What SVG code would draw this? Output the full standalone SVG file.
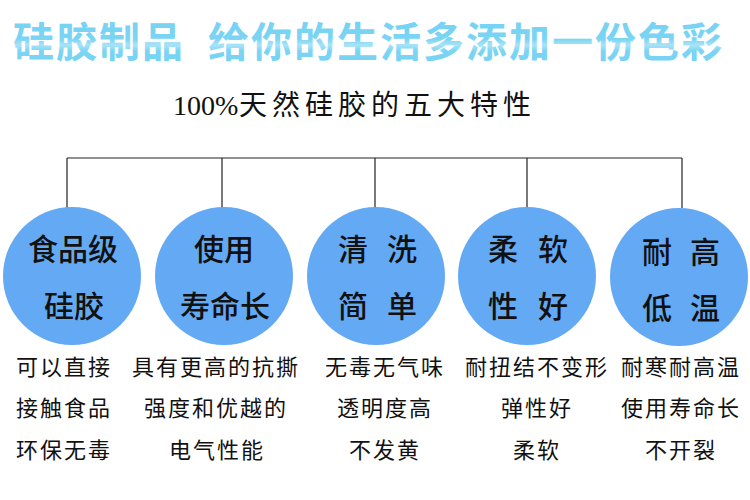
<svg xmlns="http://www.w3.org/2000/svg" width="750" height="500" viewBox="0 0 750 500">
<defs>
<linearGradient id="tg" x1="0" y1="0" x2="0" y2="1">
<stop offset="0" stop-color="#76d1f3"/>
<stop offset="0.5" stop-color="#7ad4f4"/>
<stop offset="0.6" stop-color="#a9e3f7"/>
<stop offset="0.7" stop-color="#7ad4f4"/>
<stop offset="1" stop-color="#76d1f3"/>
</linearGradient>
</defs>
<style>
.title{font-family:"Noto Sans CJK SC",sans-serif;font-size:41px;font-weight:bold;fill:url(#tg);letter-spacing:2px}
.sub{font-family:"Liberation Serif","Noto Sans CJK SC",serif;font-size:28px;fill:#111}
.circ{fill:#63a9f4}
.ct{font-family:"Noto Sans CJK SC",sans-serif;font-size:30px;font-weight:500;fill:#111;text-anchor:middle}
.bt{font-family:"Noto Sans CJK SC",sans-serif;font-size:22px;fill:#111;text-anchor:middle;letter-spacing:2px}
.ln{stroke:#222;stroke-width:1.2;fill:none}
</style>
<rect width="750" height="500" fill="#ffffff"/>
<g id="title">
<text class="title" x="13" y="57">硅胶制品</text>
<text class="title" x="208" y="57">给你的生活多添加一份色彩</text>
</g>
<g id="subtitle">
<text class="sub" x="173" y="115">100%<tspan x="239" style="letter-spacing:5px">天然硅胶的五大特性</tspan></text>
</g>
<g id="connectors">
<path class="ln" d="M67,158 H682"/>
<path class="ln" d="M67,158 V208 M222,158 V208 M375,158 V208 M527,158 V208 M682,158 V208"/>
</g>
<g id="node1">
<circle class="circ" cx="72" cy="276" r="69"/>
<text class="ct" x="73" y="260">食品级</text>
<text class="ct" x="74" y="317">硅胶</text>
</g>
<g id="node2">
<circle class="circ" cx="224" cy="276" r="69"/>
<text class="ct" x="224" y="260">使用</text>
<text class="ct" x="225" y="317">寿命长</text>
</g>
<g id="node3">
<circle class="circ" cx="376" cy="276" r="69"/>
<text class="ct" y="260"><tspan x="353">清</tspan><tspan x="402">洗</tspan></text>
<text class="ct" y="317"><tspan x="353">简</tspan><tspan x="402">单</tspan></text>
</g>
<g id="node4">
<circle class="circ" cx="527" cy="276" r="69"/>
<text class="ct" y="260"><tspan x="503">柔</tspan><tspan x="553">软</tspan></text>
<text class="ct" y="317"><tspan x="503">性</tspan><tspan x="553">好</tspan></text>
</g>
<g id="node5">
<circle class="circ" cx="679" cy="277" r="69"/>
<text class="ct" y="263"><tspan x="657">耐</tspan><tspan x="705">高</tspan></text>
<text class="ct" y="319"><tspan x="657">低</tspan><tspan x="705">温</tspan></text>
</g>
<g id="desc1">
<text class="bt" x="64" y="375">可以直接</text>
<text class="bt" x="64" y="416">接触食品</text>
<text class="bt" x="64" y="458">环保无毒</text>
</g>
<g id="desc2">
<text class="bt" x="216" y="375">具有更高的抗撕</text>
<text class="bt" x="216" y="416">强度和优越的</text>
<text class="bt" x="217" y="458">电气性能</text>
</g>
<g id="desc3">
<text class="bt" x="385" y="375">无毒无气味</text>
<text class="bt" x="385" y="416">透明度高</text>
<text class="bt" x="385" y="458">不发黄</text>
</g>
<g id="desc4">
<text class="bt" x="537" y="375">耐扭结不变形</text>
<text class="bt" x="537" y="416">弹性好</text>
<text class="bt" x="537" y="458">柔软</text>
</g>
<g id="desc5">
<text class="bt" x="681" y="375">耐寒耐高温</text>
<text class="bt" x="681" y="416">使用寿命长</text>
<text class="bt" x="681" y="458">不开裂</text>
</g>
</svg>
